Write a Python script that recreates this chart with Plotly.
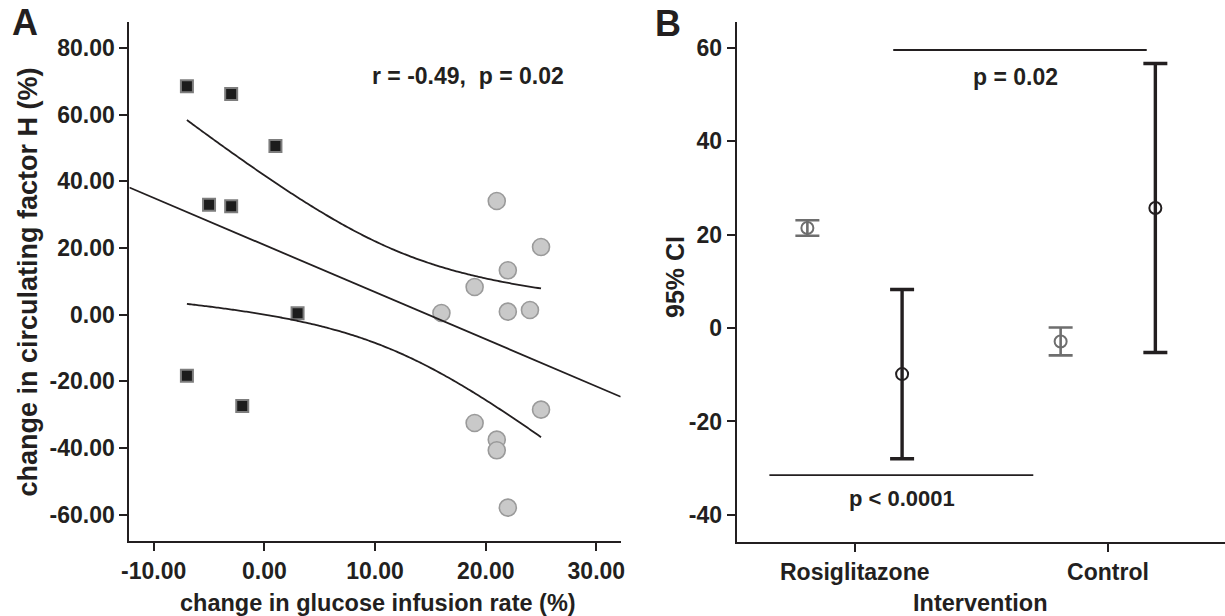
import numpy as np
import plotly.graph_objects as go

# ---- Panel A: individual changes (%), squares = Control, circles = Rosiglitazone
ctrl_gir = [-7, -3, 1, -5, -3, 3, -7, -2]
ctrl_cfh = [68.5, 66.2, 50.6, 33.0, 32.5, 0.4, -18.3, -27.4]
rosi_gir = [21, 25, 22, 19, 16, 22, 24, 25, 19, 21, 21, 22]
rosi_cfh = [34.1, 20.3, 13.3, 8.3, 0.5, 0.9, 1.4, -28.5, -32.5, -37.5, -40.7, -57.9]

# axis ticks
ticks_a_x = [-10, 0, 10, 20, 30]
ticks_a_y = [-60, -40, -20, 0, 20, 40, 60, 80]
ticks_b_y = [-40, -20, 0, 20, 40, 60]

# ---- Panel B: group order and p-value labels
groups = ["Rosiglitazone", "Control"]
p_gir = "p = 0.02"
p_cfh = "p &lt; 0.0001"
corr_label = "r = -0.49,\u00a0\u00a0p = 0.02"

# two-sided 95% t critical values by degrees of freedom
t_crit = {7: 2.3646, 11: 2.2010, 18: 2.1009}

FONT = "Liberation Sans, Arial, Helvetica, sans-serif"
INK = "#231f20"
GREY = "#6e6e6e"

# ---- regression and 95% confidence band of the mean
x_all = np.array(ctrl_gir + rosi_gir, dtype=float)
y_all = np.array(ctrl_cfh + rosi_cfh, dtype=float)
n = len(x_all)
slope, intercept = np.polyfit(x_all, y_all, 1)
resid = y_all - (slope * x_all + intercept)
s = np.sqrt(np.sum(resid ** 2) / (n - 2))
sxx = np.sum((x_all - x_all.mean()) ** 2)

xr_a = [-12.2, 32.2]
yr_a = [-67.9, 87.8]

x_fit = np.linspace(xr_a[0], xr_a[1], 50)
y_fit = slope * x_fit + intercept
x_band = np.linspace(x_all.min(), x_all.max(), 120)
half = t_crit[n - 2] * s * np.sqrt(1.0 / n + (x_band - x_all.mean()) ** 2 / sxx)
y_band = slope * x_band + intercept


def mean_ci(values):
    v = np.asarray(values, dtype=float)
    m = v.mean()
    h = t_crit[len(v) - 1] * v.std(ddof=1) / np.sqrt(len(v))
    return m, h


fig = go.Figure()

# panel A markers
fig.add_trace(go.Scatter(
    x=ctrl_gir, y=ctrl_cfh, mode="markers", xaxis="x", yaxis="y",
    marker=dict(symbol="square", size=12, color="#1c1c1c",
                line=dict(color="#7d7d7d", width=2)),
    showlegend=False, hoverinfo="skip"))
fig.add_trace(go.Scatter(
    x=rosi_gir, y=rosi_cfh, mode="markers", xaxis="x", yaxis="y",
    marker=dict(symbol="circle", size=17, color="#c9c9c9",
                line=dict(color="#9a9a9a", width=1.6)),
    showlegend=False, hoverinfo="skip"))

# panel A fit line and confidence limits
line_style = dict(color=INK, width=1.8)
fig.add_trace(go.Scatter(x=x_fit, y=y_fit, mode="lines", line=line_style,
                         xaxis="x", yaxis="y", showlegend=False, hoverinfo="skip"))
fig.add_trace(go.Scatter(x=x_band, y=y_band + half, mode="lines", line=line_style,
                         line_shape="spline", xaxis="x", yaxis="y",
                         showlegend=False, hoverinfo="skip"))
fig.add_trace(go.Scatter(x=x_band, y=y_band - half, mode="lines", line=line_style,
                         line_shape="spline", xaxis="x", yaxis="y",
                         showlegend=False, hoverinfo="skip"))

# panel B: 95% CI of GIR change (grey) and factor H change (black)
offset = 0.187
gir_sets = [rosi_gir, ctrl_gir]
cfh_sets = [rosi_cfh, ctrl_cfh]
for i, g in enumerate(groups):
    m, h = mean_ci(gir_sets[i])
    fig.add_trace(go.Scatter(
        x=[i - offset], y=[m], mode="markers", xaxis="x2", yaxis="y2",
        marker=dict(symbol="circle-open", size=12, color=GREY,
                    line=dict(color=GREY, width=2)),
        error_y=dict(type="data", symmetric=True, array=[h],
                     color=GREY, thickness=2.6, width=12),
        showlegend=False, hoverinfo="skip"))
    m, h = mean_ci(cfh_sets[i])
    fig.add_trace(go.Scatter(
        x=[i + offset], y=[m], mode="markers", xaxis="x2", yaxis="y2",
        marker=dict(symbol="circle-open", size=12, color=INK,
                    line=dict(color=INK, width=2)),
        error_y=dict(type="data", symmetric=True, array=[h],
                     color=INK, thickness=3.4, width=12),
        showlegend=False, hoverinfo="skip"))

tick_font = dict(family=FONT, size=23, color=INK, weight="bold")
title_font = dict(family=FONT, size=23.5, color=INK, weight="bold")

axis_common = dict(showline=True, linecolor=INK, linewidth=2, ticks="outside",
                   ticklen=8, tickwidth=2, tickcolor=INK, showgrid=False,
                   zeroline=False, tickfont=tick_font, fixedrange=True,
                   automargin=False)

fig.update_layout(
    width=1225, height=616, autosize=False,
    margin=dict(l=0, r=0, t=0, b=0, pad=0, autoexpand=False),
    paper_bgcolor="white", plot_bgcolor="white",
    xaxis=dict(domain=[0.1056, 0.5067], range=xr_a, anchor="y",
               tickvals=ticks_a_x, ticktext=[f"{v:.2f}" for v in ticks_a_x],
               **axis_common),
    yaxis=dict(domain=[0.1218, 0.9643], range=yr_a, anchor="x",
               tickvals=ticks_a_y, ticktext=[f"{v:.2f}" for v in ticks_a_y],
               **axis_common),
    xaxis2=dict(domain=[0.6014, 1.0], range=[-0.466, 1.462], anchor="y2",
                tickvals=list(range(len(groups))), ticktext=groups, **axis_common),
    yaxis2=dict(domain=[0.1201, 0.9643], range=[-45.8, 65.5], anchor="x2",
                tickvals=ticks_b_y, ticktext=[str(v) for v in ticks_b_y],
                **axis_common),
)

# significance brackets in panel B
brackets = [
    dict(x0=0.152, x1=1.153, y=59.5),
    dict(x0=-0.337, x1=0.705, y=-31.5),
]
for b in brackets:
    fig.add_shape(type="line", xref="x2", yref="y2", x0=b["x0"], x1=b["x1"],
                  y0=b["y"], y1=b["y"], line=dict(color=INK, width=1.8))

ann_font = dict(family=FONT, size=23, color=INK, weight="bold")
annotations = [
    dict(text=corr_label, x=18.4, y=71.6, xref="x", yref="y", font=ann_font),
    dict(text=p_gir, x=0.636, y=53.8, xref="x2", yref="y2", font=ann_font),
    dict(text=p_cfh, x=0.186, y=-36.4, xref="x2", yref="y2",
         font=dict(family=FONT, size=22, color=INK, weight="bold")),
    dict(text="A", x=0.020, y=0.9627, xref="paper", yref="paper",
         font=dict(family=FONT, size=36, color=INK, weight="bold")),
    dict(text="B", x=0.5449, y=0.9619, xref="paper", yref="paper",
         font=dict(family=FONT, size=36, color=INK, weight="bold")),
    dict(text="change in glucose infusion rate (%)", x=0.3086, y=0.0211,
         xref="paper", yref="paper", font=title_font),
    dict(text="change in circulating factor H (%)", x=0.0229, y=0.5414,
         xref="paper", yref="paper", textangle=-90,
         font=dict(family=FONT, size=27, color=INK, weight="bold")),
    dict(text="Intervention", x=0.80, y=0.0211, xref="paper", yref="paper",
         font=title_font),
    dict(text="95% CI", x=0.551, y=0.5503, xref="paper", yref="paper",
         textangle=-90, font=dict(family=FONT, size=25, color=INK, weight="bold")),
]
for a in annotations:
    fig.add_annotation(showarrow=False, xanchor="center", yanchor="middle", **a)

fig.write_html("out.html", config={"displayModeBar": False})
